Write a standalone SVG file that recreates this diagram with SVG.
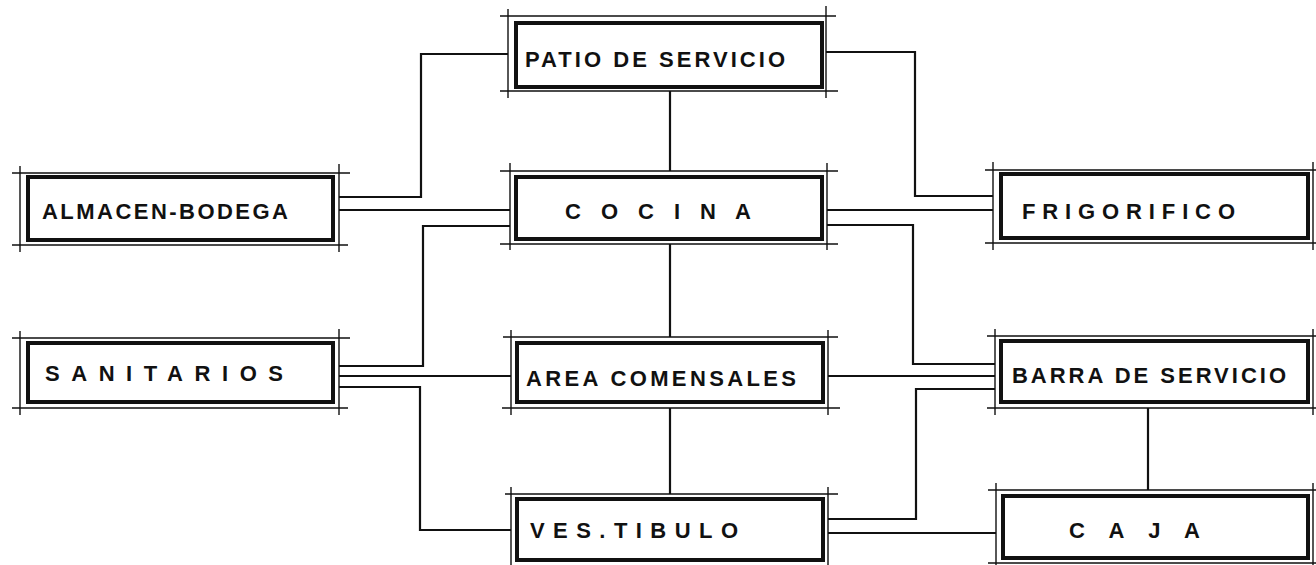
<svg xmlns="http://www.w3.org/2000/svg" width="1316" height="565" viewBox="0 0 1316 565">
<style>
.out{fill:none;stroke:#111;stroke-width:1.4}
.in{fill:#fff;stroke:#111;stroke-width:4}
.c{fill:none;stroke:#111;stroke-width:2.2;stroke-linejoin:miter}
.t{font-family:"Liberation Sans",Arial,sans-serif;font-weight:bold;font-size:22px;fill:#111}
</style>
<rect width="1316" height="565" fill="#fff"/>
<g id="connectors">
<path class="c" d="M339 197H421V54H508"/>
<path class="c" d="M339 210H510"/>
<path class="c" d="M510 226H423V366H339"/>
<path class="c" d="M339 376H511"/>
<path class="c" d="M339 387H420V530H511"/>
<path class="c" d="M826 52H915V196H993"/>
<path class="c" d="M827 210H993"/>
<path class="c" d="M827 225H913V364H995"/>
<path class="c" d="M828 376H995"/>
<path class="c" d="M995 389H916V519H828"/>
<path class="c" d="M828 533H996"/>
<path class="c" d="M1148 408V490"/>
<path class="c" d="M670 91V171"/>
<path class="c" d="M670 244V337"/>
<path class="c" d="M670 408V494"/>
</g>
<g id="almacen">
<rect class="in" x="28" y="177" width="305" height="63"/>
<path class="out" d="M12 173H350M12 245H348M20 166V252M339 164V252"/>
<text class="t" x="42" y="219" textLength="246" lengthAdjust="spacing">ALMACEN-BODEGA</text>
</g>
<g id="sanitarios">
<rect class="in" x="28" y="343" width="305" height="59"/>
<path class="out" d="M12 338H350M12 408H348M20 331V415M339 329V415"/>
<text class="t" x="45" y="381" textLength="238" lengthAdjust="spacing">SANITARIOS</text>
</g>
<g id="patio">
<rect class="in" x="516" y="23" width="306" height="64"/>
<path class="out" d="M500 16H836M500 91H838M508 9V98M826 6V98"/>
<text class="t" x="525" y="67" textLength="260" lengthAdjust="spacing">PATIO DE SERVICIO</text>
</g>
<g id="cocina">
<rect class="in" x="516" y="177" width="306" height="62"/>
<path class="out" d="M500 171H838M500 244H838M510 163V250M827 163V250"/>
<text class="t" x="565" y="219" textLength="186" lengthAdjust="spacing">C O C I N A</text>
</g>
<g id="area">
<rect class="in" x="517" y="343" width="306" height="59"/>
<path class="out" d="M503 337H838M502 408H840M511 330V415M828 330V415"/>
<text class="t" x="526" y="386" textLength="270" lengthAdjust="spacing">AREA COMENSALES</text>
</g>
<g id="vestibulo">
<rect class="in" x="517" y="499" width="306" height="61"/>
<path class="out" d="M505 494H838M511 487V565M828 487V565"/>
<text class="t" x="530" y="538" textLength="208" lengthAdjust="spacing">VES.TIBULO</text>
</g>
<g id="frigorifico">
<rect class="in" x="1001" y="174" width="307" height="64"/>
<path class="out" d="M985 170H1316M985 243H1316M993 162V250M1313 162V250"/>
<text class="t" x="1022" y="219" textLength="213" lengthAdjust="spacing">FRIGORIFICO</text>
</g>
<g id="barra">
<rect class="in" x="1001" y="341" width="307" height="61"/>
<path class="out" d="M987 336H1316M987 408H1316M995 329V415M1313 329V415"/>
<text class="t" x="1012" y="383" textLength="274" lengthAdjust="spacing">BARRA DE SERVICIO</text>
</g>
<g id="caja">
<rect class="in" x="1003" y="496" width="305" height="62"/>
<path class="out" d="M988 490H1316M988 563H1316M996 483V565M1313 483V565"/>
<text class="t" x="1069" y="538" textLength="131" lengthAdjust="spacing">C A J A</text>
</g>
</svg>
